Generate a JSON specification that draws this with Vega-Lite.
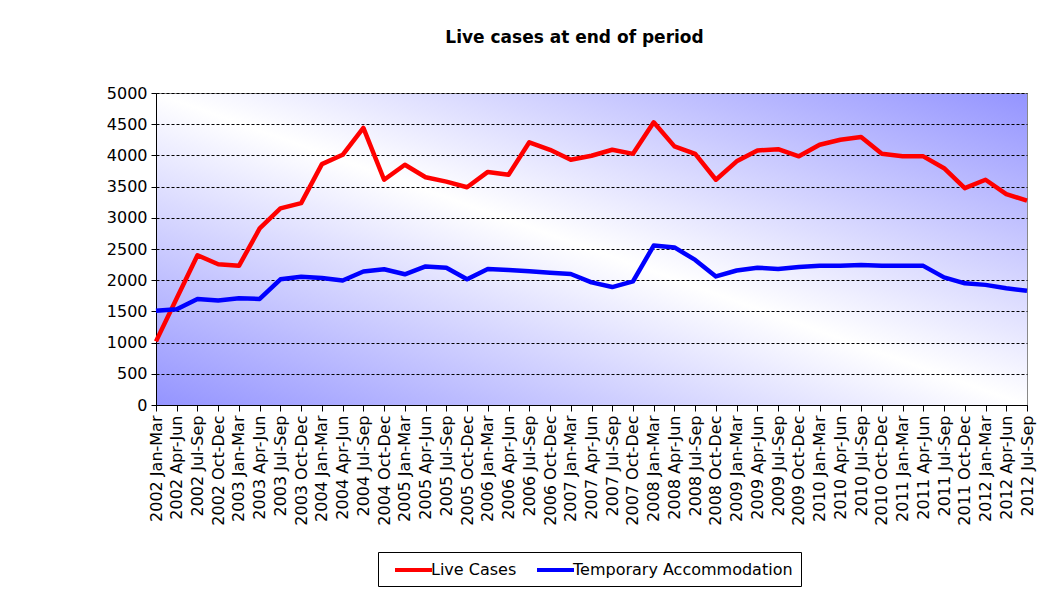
{
  "$schema": "https://vega.github.io/schema/vega-lite/v6.json",
  "width": 871,
  "height": 312,
  "autosize": {"type": "none"},
  "padding": {"left": 156, "top": 93, "right": 22, "bottom": 188},
  "background": "white",
  "view": {
    "stroke": "#888888",
    "strokeWidth": 1,
    "fill": {
      "gradient": "linear",
      "x1": 0, "y1": 1, "x2": 1, "y2": 0,
      "stops": [
        {"offset": 0, "color": "#9494ff"},
        {"offset": 0.5, "color": "#ffffff"},
        {"offset": 1, "color": "#9494ff"}
      ]
    }
  },
  "title": {
    "text": "Live cases at end of period",
    "font": "DejaVu Sans",
    "fontSize": 17,
    "fontWeight": "bold",
    "color": "black",
    "anchor": "middle",
    "offset": 38,
    "dx": -17
  },
  "data": {
    "values": [
      {"period": "2002 Jan-Mar", "Live Cases": 1020, "Temporary Accommodation": 1510},
      {"period": "2002 Apr-Jun", "Live Cases": 1710, "Temporary Accommodation": 1535},
      {"period": "2002 Jul-Sep", "Live Cases": 2400, "Temporary Accommodation": 1700},
      {"period": "2002 Oct-Dec", "Live Cases": 2255, "Temporary Accommodation": 1675},
      {"period": "2003 Jan-Mar", "Live Cases": 2230, "Temporary Accommodation": 1710},
      {"period": "2003 Apr-Jun", "Live Cases": 2830, "Temporary Accommodation": 1700},
      {"period": "2003 Jul-Sep", "Live Cases": 3150, "Temporary Accommodation": 2015},
      {"period": "2003 Oct-Dec", "Live Cases": 3235, "Temporary Accommodation": 2055},
      {"period": "2004 Jan-Mar", "Live Cases": 3860, "Temporary Accommodation": 2035},
      {"period": "2004 Apr-Jun", "Live Cases": 4010, "Temporary Accommodation": 1995},
      {"period": "2004 Jul-Sep", "Live Cases": 4440, "Temporary Accommodation": 2140},
      {"period": "2004 Oct-Dec", "Live Cases": 3610, "Temporary Accommodation": 2175},
      {"period": "2005 Jan-Mar", "Live Cases": 3850, "Temporary Accommodation": 2095},
      {"period": "2005 Apr-Jun", "Live Cases": 3650, "Temporary Accommodation": 2220},
      {"period": "2005 Jul-Sep", "Live Cases": 3580, "Temporary Accommodation": 2200},
      {"period": "2005 Oct-Dec", "Live Cases": 3490, "Temporary Accommodation": 2015},
      {"period": "2006 Jan-Mar", "Live Cases": 3735, "Temporary Accommodation": 2180},
      {"period": "2006 Apr-Jun", "Live Cases": 3690, "Temporary Accommodation": 2165},
      {"period": "2006 Jul-Sep", "Live Cases": 4210, "Temporary Accommodation": 2145},
      {"period": "2006 Oct-Dec", "Live Cases": 4090, "Temporary Accommodation": 2120},
      {"period": "2007 Jan-Mar", "Live Cases": 3930, "Temporary Accommodation": 2100},
      {"period": "2007 Apr-Jun", "Live Cases": 3995, "Temporary Accommodation": 1965},
      {"period": "2007 Jul-Sep", "Live Cases": 4090, "Temporary Accommodation": 1890},
      {"period": "2007 Oct-Dec", "Live Cases": 4025, "Temporary Accommodation": 1980},
      {"period": "2008 Jan-Mar", "Live Cases": 4530, "Temporary Accommodation": 2555},
      {"period": "2008 Apr-Jun", "Live Cases": 4145, "Temporary Accommodation": 2525},
      {"period": "2008 Jul-Sep", "Live Cases": 4025, "Temporary Accommodation": 2325},
      {"period": "2008 Oct-Dec", "Live Cases": 3610, "Temporary Accommodation": 2060},
      {"period": "2009 Jan-Mar", "Live Cases": 3905, "Temporary Accommodation": 2155},
      {"period": "2009 Apr-Jun", "Live Cases": 4080, "Temporary Accommodation": 2200},
      {"period": "2009 Jul-Sep", "Live Cases": 4100, "Temporary Accommodation": 2180},
      {"period": "2009 Oct-Dec", "Live Cases": 3985, "Temporary Accommodation": 2210},
      {"period": "2010 Jan-Mar", "Live Cases": 4170, "Temporary Accommodation": 2230},
      {"period": "2010 Apr-Jun", "Live Cases": 4250, "Temporary Accommodation": 2230},
      {"period": "2010 Jul-Sep", "Live Cases": 4295, "Temporary Accommodation": 2245},
      {"period": "2010 Oct-Dec", "Live Cases": 4025, "Temporary Accommodation": 2230},
      {"period": "2011 Jan-Mar", "Live Cases": 3985, "Temporary Accommodation": 2230},
      {"period": "2011 Apr-Jun", "Live Cases": 3985, "Temporary Accommodation": 2230},
      {"period": "2011 Jul-Sep", "Live Cases": 3795, "Temporary Accommodation": 2045},
      {"period": "2011 Oct-Dec", "Live Cases": 3475, "Temporary Accommodation": 1950},
      {"period": "2012 Jan-Mar", "Live Cases": 3610, "Temporary Accommodation": 1925},
      {"period": "2012 Apr-Jun", "Live Cases": 3380, "Temporary Accommodation": 1870},
      {"period": "2012 Jul-Sep", "Live Cases": 3275, "Temporary Accommodation": 1830}
    ]
  },
  "transform": [
    {"fold": ["Live Cases", "Temporary Accommodation"], "as": ["series", "value"]}
  ],
  "mark": {"type": "line", "strokeWidth": 4.5, "strokeJoin": "round"},
  "encoding": {
    "x": {
      "field": "period",
      "type": "ordinal",
      "sort": null,
      "scale": {"type": "point", "padding": 0},
      "axis": {
        "title": null,
        "labelAngle": -90,
        "labelFont": "DejaVu Sans",
        "labelFontSize": 16,
        "labelColor": "black",
        "labelPadding": 4,
        "tickColor": "black",
        "tickSize": 6,
        "domainColor": "black",
        "grid": false
      }
    },
    "y": {
      "field": "value",
      "type": "quantitative",
      "scale": {"domain": [0, 5000], "nice": false},
      "axis": {
        "title": null,
        "format": "d",
        "values": [0, 500, 1000, 1500, 2000, 2500, 3000, 3500, 4000, 4500, 5000],
        "labelFont": "DejaVu Sans",
        "labelFontSize": 16,
        "labelColor": "black",
        "labelPadding": 4,
        "tickColor": "black",
        "tickSize": 5,
        "domainColor": "black",
        "grid": true,
        "gridColor": "black",
        "gridDash": [3, 2],
        "gridWidth": 1,
        "gridOpacity": 1
      }
    },
    "color": {
      "field": "series",
      "type": "nominal",
      "sort": null,
      "scale": {"domain": ["Live Cases", "Temporary Accommodation"], "range": ["#ff0000", "#0000ff"]},
      "legend": {
        "orient": "none",
        "legendX": 222,
        "legendY": 459,
        "direction": "horizontal",
        "title": null,
        "strokeColor": "black",
        "fillColor": "white",
        "padding": 8,
        "symbolType": "M-0.125,0H4.5",
        "symbolStrokeWidth": 4,
        "symbolSize": 256,
        "labelFont": "DejaVu Sans",
        "labelFontSize": 16,
        "labelColor": "black",
        "labelOffset": 25,
        "labelLimit": 400,
        "columnPadding": 11
      }
    }
  }
}
